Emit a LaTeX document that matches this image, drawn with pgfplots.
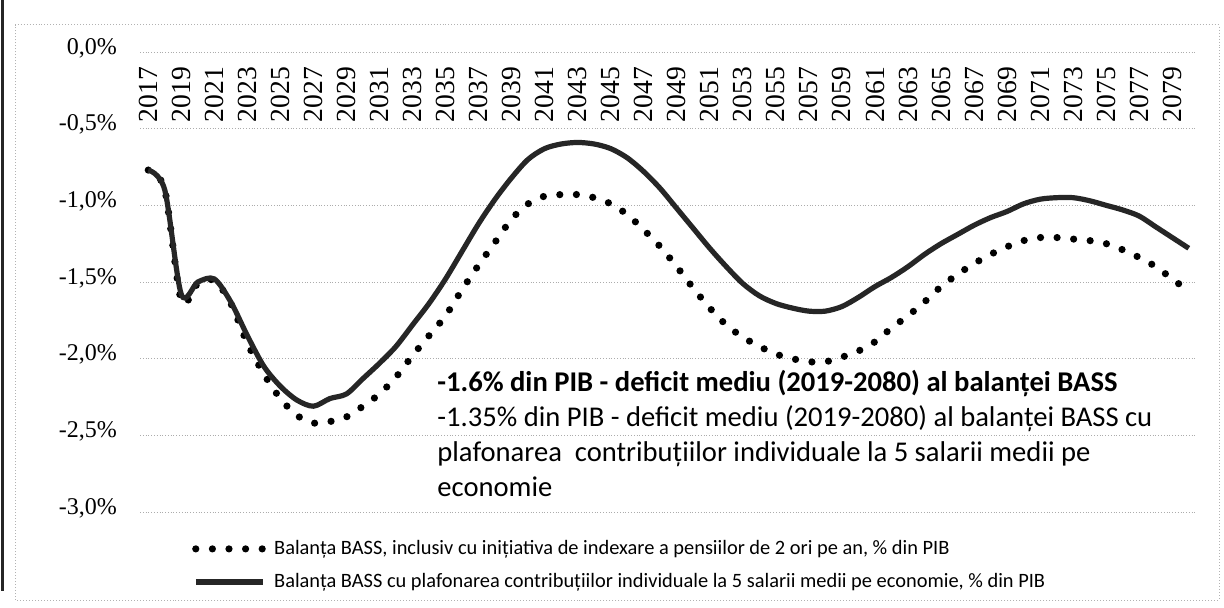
\documentclass[border=0pt]{standalone}
\usepackage{fontspec}
\setmainfont{Carlito}
\newfontfamily\tickfont{Liberation Serif}
\usepackage{pgfplots}
\pgfplotsset{compat=1.18}

\pgfplotstableread{
year d s
2017 -0.77 -0.77
2018 -0.90 -0.90
2019 -1.62 -1.58
2020 -1.51 -1.50
2021 -1.49 -1.48
2022 -1.64 -1.63
2023 -1.90 -1.85
2024 -2.10 -2.05
2025 -2.26 -2.18
2026 -2.37 -2.27
2027 -2.42 -2.31
2028 -2.41 -2.26
2029 -2.38 -2.23
2030 -2.31 -2.13
2031 -2.23 -2.03
2032 -2.12 -1.92
2033 -1.98 -1.78
2034 -1.85 -1.64
2035 -1.72 -1.48
2036 -1.55 -1.30
2037 -1.39 -1.12
2038 -1.24 -0.96
2039 -1.09 -0.82
2040 -0.99 -0.70
2041 -0.94 -0.63
2042 -0.93 -0.60
2043 -0.93 -0.59
2044 -0.95 -0.60
2045 -0.99 -0.63
2046 -1.06 -0.69
2047 -1.16 -0.78
2048 -1.27 -0.89
2049 -1.40 -1.02
2050 -1.54 -1.15
2051 -1.67 -1.28
2052 -1.78 -1.40
2053 -1.86 -1.51
2054 -1.92 -1.59
2055 -1.97 -1.64
2056 -2.00 -1.67
2057 -2.02 -1.69
2058 -2.02 -1.69
2059 -1.99 -1.66
2060 -1.95 -1.60
2061 -1.89 -1.53
2062 -1.80 -1.47
2063 -1.72 -1.40
2064 -1.63 -1.32
2065 -1.53 -1.25
2066 -1.45 -1.19
2067 -1.38 -1.13
2068 -1.32 -1.08
2069 -1.27 -1.04
2070 -1.23 -0.99
2071 -1.21 -0.96
2072 -1.21 -0.95
2073 -1.22 -0.95
2074 -1.23 -0.97
2075 -1.25 -1.00
2076 -1.29 -1.03
2077 -1.34 -1.07
2078 -1.40 -1.14
2079 -1.48 -1.21
2080 -1.56 -1.28
}\datatable

\begin{document}
\begin{tikzpicture}[x=1bp,y=1bp]
\path[use as bounding box] (0,0) rectangle (612,303.5);
\draw[gray!60, densely dotted, line width=0.5bp] (7.5,3.5) rectangle (609.5,291);
\draw[black!85, line width=1.6bp] (1.2,303.5) -- (1.2,8);
\begin{axis}[
  at={(70bp,47.5bp)}, anchor=south west,
  scale only axis, width=528.5bp, height=230bp,
  xmin=2016.5, xmax=2080.5, ymin=-3, ymax=0,
  axis line style={draw=none},
  tick style={draw=none}, major tick length=0pt,
  ymajorgrids, grid style={gray!65, densely dotted, line width=0.5bp},
  ytick={-3,-2.5,-2,-1.5,-1,-0.5,0},
  yticklabels={{-3,0\%},{-2,5\%},{-2,0\%},{-1,5\%},{-1,0\%},{-0,5\%},{0,0\%}},
  yticklabel style={font=\tickfont\fontsize{12bp}{14bp}\selectfont, anchor=east, xshift=-8bp, yshift=2bp},
  xtick={2017,2019,...,2079},
  xticklabel pos=upper,
  /pgf/number format/1000 sep={},
  /pgf/number format/assume math mode=true,
  xticklabel style={yshift=-4bp, font=\tickfont\fontsize{13.8bp}{15bp}\selectfont, rotate=90, anchor=east},
  legend style={at={(0.049,-0.052)}, anchor=north west, draw=none, fill=none,
    font=\fontsize{10.2bp}{11.5bp}\selectfont, row sep=4bp, inner sep=0pt},
  legend cell align=left,
  legend image code/.code={\draw[#1] (0bp,0bp) -- (33.4bp,0bp);},
  clip=false,
]
\addplot[black, line width=3.6bp, dash pattern=on 0bp off 8.3bp, line cap=round, smooth]
  table[x=year, y=d] {\datatable};
\addlegendentry{\hspace{2bp}Balanța BASS, inclusiv cu inițiativa de indexare a pensiilor de 2 ori pe an, \% din PIB}
\addplot[black!85, line width=2.6bp, smooth]
  table[x=year, y=s] {\datatable};
\addlegendentry{\hspace{2bp}Balanța BASS cu plafonarea contribuțiilor individuale la 5 salarii medii pe economie, \% din PIB}
\end{axis}
\node[anchor=north west, align=left, inner sep=0pt, font=\fontsize{14.3bp}{17.5bp}\selectfont]
  at (218.5,118.7) {\textbf{-1.6\% din PIB - deficit mediu (2019-2080) al balanței BASS}\\
  -1.35\% din PIB - deficit mediu (2019-2080) al balanței BASS cu\\
  plafonarea\ \ contribuțiilor individuale la 5 salarii medii pe\\
  economie};
\end{tikzpicture}
\end{document}
